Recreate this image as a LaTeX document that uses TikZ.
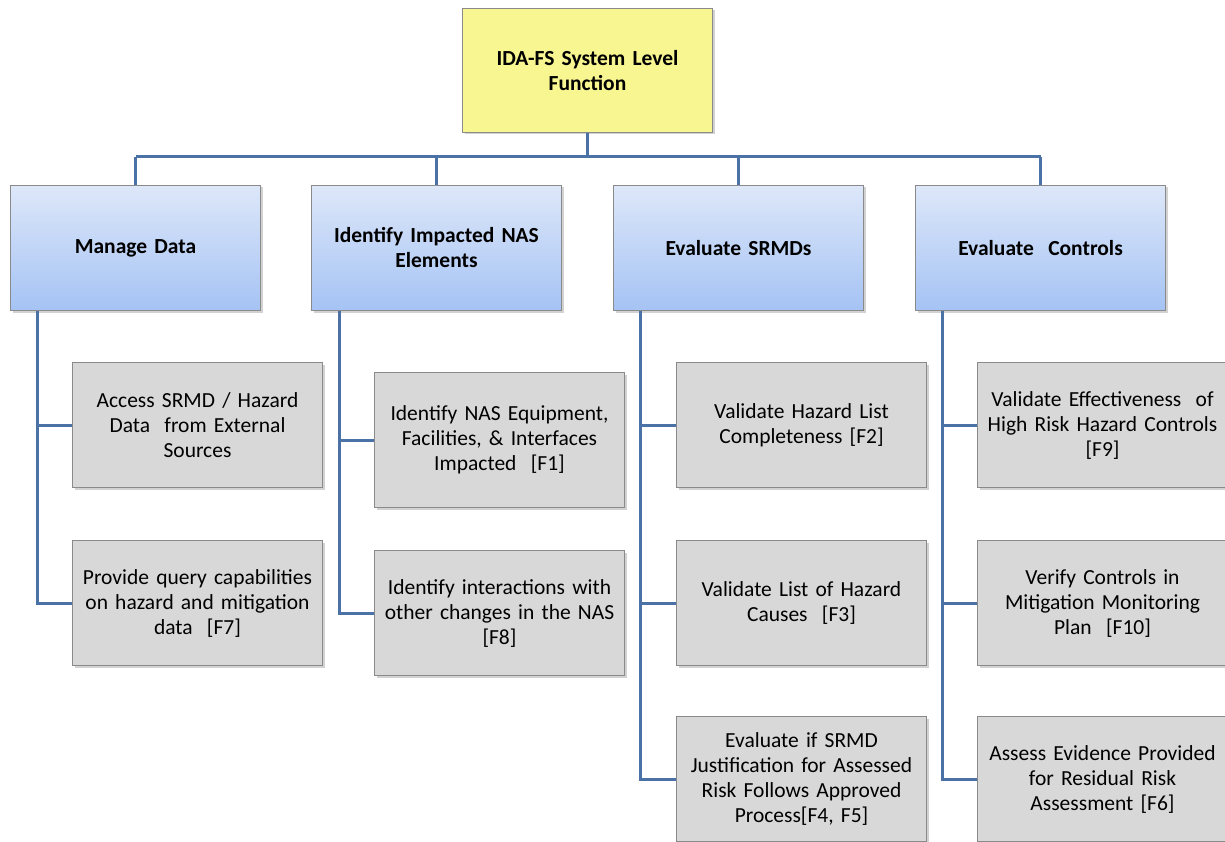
\documentclass[tikz,border=0pt]{standalone}
\usepackage{fontspec}
\setmainfont{Carlito}
\usetikzlibrary{shadows}
\definecolor{linec}{HTML}{4A72A6}
\definecolor{yel}{HTML}{F8F690}
\definecolor{bluetop}{HTML}{DDE7F9}
\definecolor{bluebot}{HTML}{A5C3F4}
\definecolor{grayf}{HTML}{D8D8D8}
\definecolor{bord}{HTML}{8A8A8A}
\tikzset{
  x=1pt,y=-1pt,
  base/.style={draw=bord, line width=1pt, minimum width=250pt, minimum height=125pt, anchor=north west, align=center, font=\fontsize{21.5}{25}\selectfont\bfseries, inner sep=2pt,
    drop shadow={opacity=0.35, shadow xshift=2pt, shadow yshift=-2pt}},
  topbox/.style={base, fill=yel, minimum height=124pt, text width=244pt},
  midbox/.style={base, top color=bluetop, bottom color=bluebot, text width=244pt},
  leaf/.style={base, fill=grayf, text width=244pt, font=\fontsize{21.5}{25}\selectfont},
  conn/.style={draw=linec, line width=3pt},
}
\begin{document}
\begin{tikzpicture}
\useasboundingbox (0,0) rectangle (1225,842);
\fill[white] (0,0) rectangle (1225,842);
\node[topbox] (top) at (462,8) {IDA-FS System Level\\Function};
\node[midbox] (m1) at (10,185) {Manage Data};
\node[midbox] (m2) at (311,185) {Identify Impacted NAS\\Elements};
\node[midbox] (m3) at (613,185) {Evaluate SRMDs};
\node[midbox] (m4) at (915,185) {Evaluate\ \ Controls};
% leaves
\node[leaf] (a) at (72,362) {Access SRMD / Hazard\\Data\ \ from External\\Sources};
\node[leaf] (b) at (72,540) {Provide query capabilities\\on hazard and mitigation\\data\ \ [F7]};
\node[leaf, minimum height=135pt] (c) at (374,372) {Identify NAS Equipment,\\Facilities, \& Interfaces\\Impacted\ \ [F1]};
\node[leaf] (d) at (374,550) {Identify interactions with\\other changes in the NAS\\{}[F8]};
\node[leaf] (e) at (676,362) {Validate Hazard List\\Completeness [F2]};
\node[leaf] (f) at (676,540) {Validate List of Hazard\\Causes\ \ [F3]};
\node[leaf] (g) at (676,716) {Evaluate if SRMD\\Justification for Assessed\\Risk Follows Approved\\Process[F4, F5]};
\node[leaf] (h) at (977,362) {Validate Effectiveness\ \ of\\High Risk Hazard Controls\\{}[F9]};
\node[leaf] (i) at (977,540) {Verify Controls in\\Mitigation Monitoring\\Plan\ \ [F10]};
\node[leaf] (j) at (977,716) {Assess Evidence Provided\\for Residual Risk\\Assessment [F6]};
% top connectors
\coordinate (bar) at (0,157);
\draw[conn] (top.south) -- (top.south |- bar);
\draw[conn] (m1.north |- bar) -- (m4.north |- bar);
\foreach \m in {m1,m2,m3,m4} \draw[conn] (\m.north |- bar) -- (\m.north);
% column spines
\coordinate (s1) at (37,0);
\coordinate (s2) at (339,0);
\coordinate (s3) at (640,0);
\coordinate (s4) at (942,0);
\draw[conn] (s1 |- m1.south) -- (s1 |- b.west) -- (b.west);
\draw[conn] (s1 |- a.west) -- (a.west);
\draw[conn] (s2 |- m2.south) -- (s2 |- d.west) -- (d.west);
\draw[conn] (s2 |- c.west) -- (c.west);
\draw[conn] (s3 |- m3.south) -- (s3 |- g.west) -- (g.west);
\draw[conn] (s3 |- e.west) -- (e.west);
\draw[conn] (s3 |- f.west) -- (f.west);
\draw[conn] (s4 |- m4.south) -- (s4 |- j.west) -- (j.west);
\draw[conn] (s4 |- h.west) -- (h.west);
\draw[conn] (s4 |- i.west) -- (i.west);
\end{tikzpicture}
\end{document}
